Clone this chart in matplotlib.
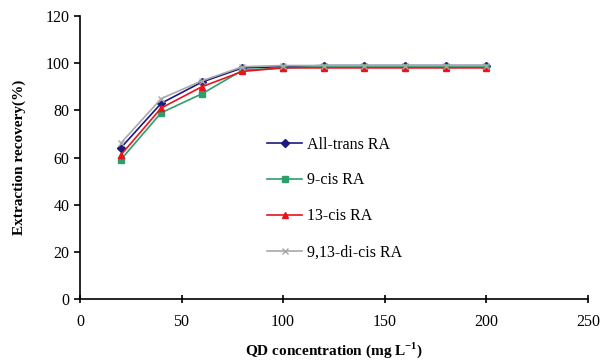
import matplotlib.pyplot as plt

plt.rcParams['font.family'] = ['Liberation Serif', 'DejaVu Serif']

# --- DONNEES ---
conc = [20, 40, 60, 80, 100, 120, 140, 160, 180, 200]
all_trans = [64, 83, 92, 98, 98.5, 99, 99, 99, 99, 99]
cis9 = [59, 79, 87, 97, 98, 98.5, 98.5, 98.5, 98.5, 98.5]
cis13 = [61, 81, 90, 96.5, 98, 98, 98, 98, 98, 98]
dicis = [66, 85, 92.5, 98.5, 99, 99, 99, 99, 99, 99]
labels = ['All-trans RA', '9-cis RA', '13-cis RA', '9,13-di-cis RA']

# --- FIGURE ---
fig = plt.figure(figsize=(6.06, 3.63), dpi=100)
ax = fig.add_axes([0.132, 0.176, 0.838, 0.780])

ax.plot(conc, all_trans, color='#1a1a80', marker='D', markersize=4, lw=1.2, label=labels[0])
ax.plot(conc, cis9, color='#2e9e6a', marker='s', markersize=5, lw=1.2, label=labels[1])
ax.plot(conc, cis13, color='#e8141c', marker='^', markersize=5, lw=1.2, label=labels[2])
ax.plot(conc, dicis, color='#a8a8a8', marker='x', markersize=5, lw=1.2, label=labels[3])

ax.set_xlim(0, 250)
ax.set_ylim(0, 120)
ax.set_xticks([0, 50, 100, 150, 200, 250])
ax.set_yticks([0, 20, 40, 60, 80, 100, 120])
ax.spines['top'].set_visible(False)
ax.spines['right'].set_visible(False)
ax.spines['left'].set_linewidth(1.2)
ax.spines['bottom'].set_linewidth(1.2)
ax.tick_params(axis='x', direction='inout', length=6, width=1.2, labelsize=11.5, pad=8)
ax.tick_params(axis='y', direction='out', length=4, width=1.2, labelsize=11.5)

ax.set_xlabel('QD concentration (mg L$^{\\mathregular{-1}}$)', fontsize=11, fontweight='bold', labelpad=7)
ax.set_ylabel('Extraction recovery(%)', fontsize=11, fontweight='bold', labelpad=14)

ax.legend(loc='upper left', bbox_to_anchor=(0.34, 0.625), frameon=False,
          fontsize=11.5, labelspacing=1.25, handlelength=2.2, handletextpad=0.3)

plt.savefig("out.png", dpi=100)
print("[OK] out.png")
